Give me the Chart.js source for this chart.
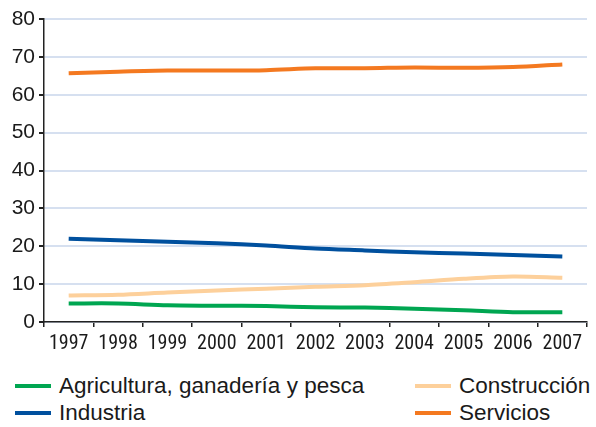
<!DOCTYPE html>
<html>
<head>
<meta charset="utf-8">
<script src="https://cdn.jsdelivr.net/npm/chart.js@4/dist/chart.umd.min.js"></script>
<style>
  html, body { margin: 0; padding: 0; background: #fff; }
  #wrap { position: relative; width: 596px; height: 352px; }
  .legend { position: absolute; left: 0; top: 372px; width: 596px; font-family: "Liberation Sans", Arial, sans-serif; font-size: 22.5px; color: #1a1a1a; }
  .item { position: absolute; height: 27px; line-height: 27px; white-space: nowrap; }
  .item span.sw { position: absolute; left: 0; top: 12px; width: 36px; height: 4px; }
  .item span.tx { position: absolute; left: 44px; top: 0; }
</style>
</head>
<body>
<div id="wrap"><canvas id="c"></canvas></div>
<div class="legend" id="legend"></div>
<script>
// años y valores (%)
const years = ['1997', '1998', '1999', '2000', '2001', '2002', '2003', '2004', '2005', '2006', '2007'];
const agricultura = [4.9, 4.9, 4.4, 4.3, 4.2, 3.9, 3.8, 3.5, 3.1, 2.6, 2.6];
const construccion = [7.0, 7.2, 7.8, 8.3, 8.8, 9.3, 9.7, 10.5, 11.4, 12.0, 11.7];
const industria = [22.0, 21.6, 21.2, 20.8, 20.2, 19.4, 18.9, 18.4, 18.1, 17.7, 17.3];
const servicios = [65.7, 66.1, 66.4, 66.4, 66.5, 67.0, 67.0, 67.2, 67.1, 67.3, 68.0];
const yTicks = [0, 10, 20, 30, 40, 50, 60, 70, 80];

const series = [
  { label: 'Agricultura, ganadería y pesca', data: agricultura, color: '#00a651', x: 15, y: 0 },
  { label: 'Industria', data: industria, color: '#00509e', x: 15, y: 27 },
  { label: 'Construcción', data: construccion, color: '#fdd09b', x: 415, y: 0 },
  { label: 'Servicios', data: servicios, color: '#f47920', x: 415, y: 27 }
];

const ctx = document.getElementById('c').getContext('2d');
new Chart(ctx, {
  type: 'line',
  data: {
    labels: years,
    datasets: series.map(s => ({
      label: s.label,
      data: s.data,
      borderColor: s.color,
      borderWidth: 4,
      pointRadius: 0,
      tension: 0.3,
      fill: false
    }))
  },
  options: {
    responsive: true,
    maintainAspectRatio: false,
    animation: false,
    layout: { padding: { top: 19, right: 9, left: 0, bottom: 0 } },
    plugins: {
      legend: { display: false },
      tooltip: { enabled: false }
    },
    scales: {
      x: {
        offset: true,
        grid: { drawOnChartArea: false, offset: true, tickLength: 5, tickColor: '#222', lineWidth: 1.5 },
        border: { color: '#222', width: 1.5 },
        ticks: {
          color: '#1a1a1a', padding: 5, maxRotation: 0, autoSkip: false,
          font: { family: '"Liberation Sans Narrow", "Roboto Condensed", "Liberation Sans", sans-serif', size: 20 }
        },
        afterFit: (scale) => { scale.height = 30; }
      },
      y: {
        min: 0,
        max: 80,
        afterBuildTicks: (scale) => { scale.ticks = yTicks.map(v => ({ value: v })); },
        grid: { color: '#d6e0f0', lineWidth: 2, tickLength: 5, tickColor: '#222' },
        border: { color: '#222', width: 1.5 },
        ticks: {
          color: '#1a1a1a', padding: 4,
          font: { family: '"Liberation Sans", Arial, sans-serif', size: 21 }
        },
        afterFit: (scale) => { scale.width = 44; }
      }
    }
  }
});

// leyenda en dos columnas
const lg = document.getElementById('legend');
series.forEach(s => {
  const d = document.createElement('div');
  d.className = 'item';
  d.style.left = s.x + 'px';
  d.style.top = s.y + 'px';
  d.innerHTML = '<span class="sw" style="background:' + s.color + '"></span><span class="tx">' + s.label + '</span>';
  lg.appendChild(d);
});
</script>
</body>
</html>
